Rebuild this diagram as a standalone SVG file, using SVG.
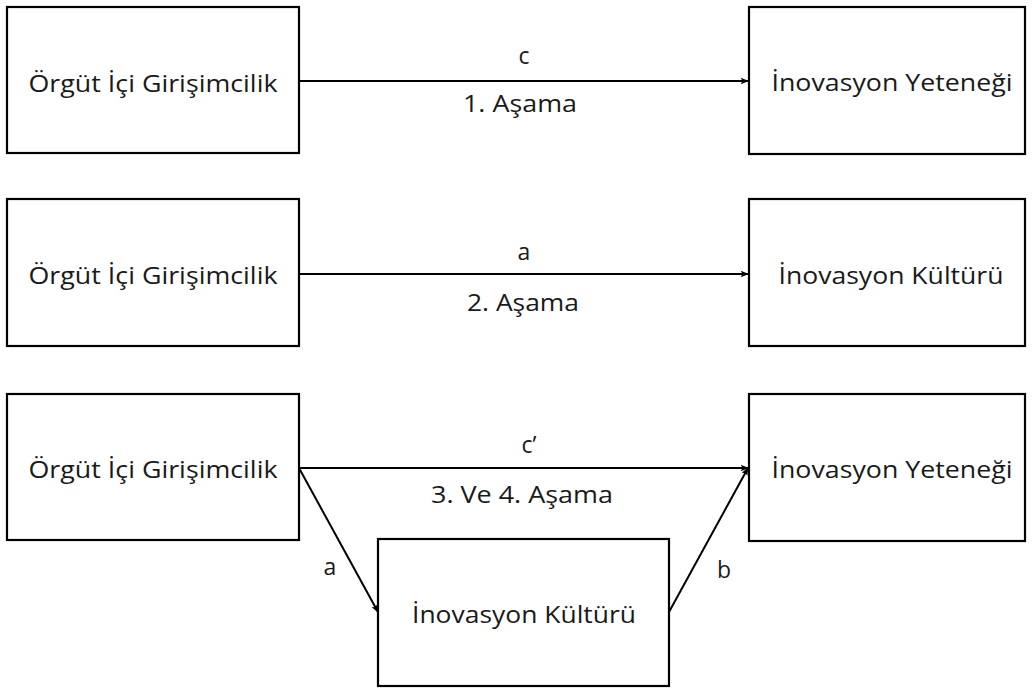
<svg xmlns="http://www.w3.org/2000/svg" width="1033" height="691" viewBox="0 0 1033 691">
  <style>
    .box { fill: #ffffff; stroke: #000000; stroke-width: 2.2; }
    .lbl { font-family: "Open Sans", "Noto Sans", "Liberation Sans", sans-serif; font-size: 23px; fill: #1a1a1a; }
    .mid { text-anchor: middle; }
    .edge { stroke: #000000; stroke-width: 2; fill: none; marker-end: url(#arrow); }
  </style>
  <defs>
    <marker id="arrow" viewBox="0 0 10 10" refX="9" refY="5" markerWidth="9" markerHeight="8" orient="auto" markerUnits="userSpaceOnUse">
      <path d="M0,1 L10,5 L0,9 L2,5 z" fill="#000000"/>
    </marker>
  </defs>
  <rect width="1033" height="691" fill="#ffffff"/>

  <!-- connectors -->
  <g id="connectors">
    <line class="edge" x1="299" y1="81" x2="748" y2="81"/>
    <line class="edge" x1="299" y1="274" x2="748" y2="274"/>
    <line class="edge" x1="299" y1="468" x2="748" y2="468"/>
    <line class="edge" x1="299" y1="468" x2="378" y2="612"/>
    <line class="edge" x1="669" y1="612" x2="748" y2="468"/>
    <text class="lbl mid" x="524" y="64">c</text>
    <text class="lbl mid" x="520" y="112" textLength="114" lengthAdjust="spacingAndGlyphs">1. Aşama</text>
    <text class="lbl mid" x="524" y="260">a</text>
    <text class="lbl mid" x="523" y="311" textLength="112" lengthAdjust="spacingAndGlyphs">2. Aşama</text>
    <text class="lbl mid" x="529" y="453">c’</text>
    <text class="lbl mid" x="522" y="503" textLength="182" lengthAdjust="spacingAndGlyphs">3. Ve 4. Aşama</text>
    <text class="lbl mid" x="330" y="575">a</text>
    <text class="lbl mid" x="724" y="578">b</text>
  </g>

  <!-- row 1 -->
  <g id="oig-1">
    <rect class="box" x="7" y="7" width="292" height="146"/>
    <text class="lbl mid" x="153" y="92" textLength="249" lengthAdjust="spacingAndGlyphs">Örgüt İçi Girişimcilik</text>
  </g>
  <g id="iy-1">
    <rect class="box" x="749" y="7" width="276" height="147"/>
    <text class="lbl mid" x="892" y="91" textLength="241" lengthAdjust="spacingAndGlyphs">İnovasyon Yeteneği</text>
  </g>

  <!-- row 2 -->
  <g id="oig-2">
    <rect class="box" x="7" y="199" width="292" height="147"/>
    <text class="lbl mid" x="153" y="284" textLength="249" lengthAdjust="spacingAndGlyphs">Örgüt İçi Girişimcilik</text>
  </g>
  <g id="ik-2">
    <rect class="box" x="749" y="199" width="276" height="147"/>
    <text class="lbl mid" x="891" y="284" textLength="225" lengthAdjust="spacingAndGlyphs">İnovasyon Kültürü</text>
  </g>

  <!-- row 3 -->
  <g id="oig-3">
    <rect class="box" x="7" y="394" width="292" height="146"/>
    <text class="lbl mid" x="153" y="478" textLength="249" lengthAdjust="spacingAndGlyphs">Örgüt İçi Girişimcilik</text>
  </g>
  <g id="iy-3">
    <rect class="box" x="749" y="394" width="276" height="147"/>
    <text class="lbl mid" x="892" y="478" textLength="241" lengthAdjust="spacingAndGlyphs">İnovasyon Yeteneği</text>
  </g>
  <g id="ik-3">
    <rect class="box" x="378" y="539" width="291" height="147"/>
    <text class="lbl mid" x="524" y="623" textLength="224" lengthAdjust="spacingAndGlyphs">İnovasyon Kültürü</text>
  </g>
</svg>
